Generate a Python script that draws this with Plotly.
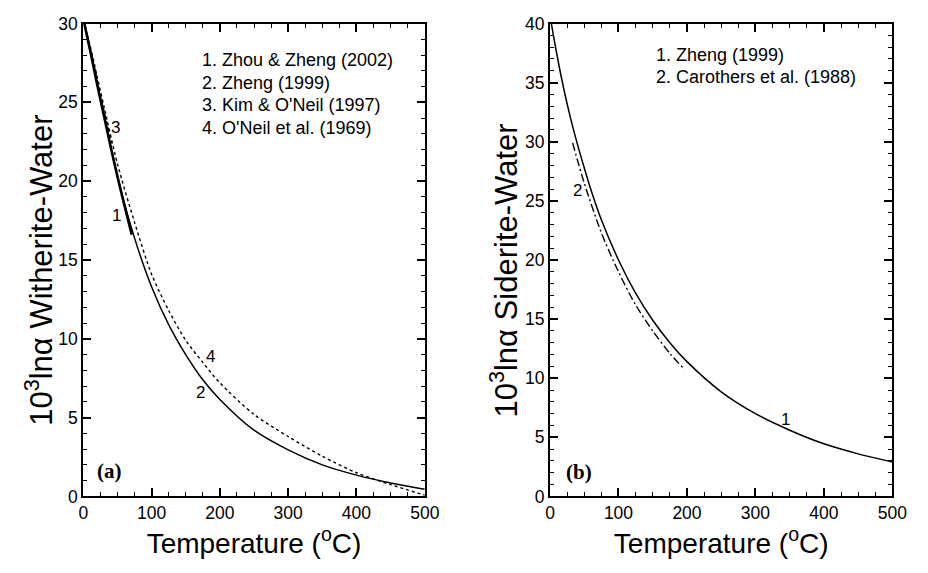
import plotly.graph_objects as go

# ---- Panel (a): Witherite-Water ----
t_zhou2002 = [0, 10, 20, 30, 40, 50, 60, 71]
v_zhou2002 = [30.3, 28.3, 26.2, 24.2, 22.2, 20.3, 18.5, 16.6]

t_zheng1999a = [2, 10, 20, 30, 50, 75, 100, 125, 150, 175, 200, 250, 300, 350, 400, 450, 500]
v_zheng1999a = [30.0, 28.4, 26.3, 24.3, 20.3, 16.4, 13.3, 10.9, 9.0, 7.4, 6.15, 4.2, 2.95, 2.0, 1.35, 0.85, 0.45]

t_kim1997 = [6, 15, 25, 35, 42]
v_kim1997 = [29.0, 27.5, 25.5, 23.6, 22.4]

t_oneil1969 = [1, 10, 20, 30, 50, 75, 100, 125, 150, 175, 200, 250, 300, 350, 400, 450, 500]
v_oneil1969 = [30.0, 28.6, 26.7, 24.8, 21.1, 17.4, 14.1, 11.8, 9.9, 8.5, 7.2, 5.2, 3.8, 2.55, 1.5, 0.75, 0.08]

# ---- Panel (b): Siderite-Water ----
t_zheng1999b = [2, 10, 20, 30, 40, 50, 60, 75, 100, 125, 150, 175, 200, 250, 300, 350, 400, 450, 500]
v_zheng1999b = [40.0, 37.4, 34.5, 32.0, 29.8, 27.8, 25.9, 23.4, 20.0, 17.2, 14.9, 13.0, 11.4, 8.85, 7.0, 5.6, 4.45, 3.6, 2.9]

t_carothers1988 = [33, 50, 75, 100, 125, 150, 175, 197]
v_carothers1988 = [29.9, 26.5, 22.3, 19.0, 16.2, 14.0, 12.1, 10.7]

legend_a = ["1. Zhou &amp; Zheng (2002)", "2. Zheng (1999)", "3. Kim &amp; O'Neil (1997)", "4. O'Neil et al. (1969)"]
legend_b = ["1. Zheng (1999)", "2. Carothers et al. (1988)"]

x_title = "Temperature (<sup>o</sup>C)"
y_title_a = "10<sup>3</sup>ln\u03b1 Witherite-Water"
y_title_b = "10<sup>3</sup>ln\u03b1 Siderite-Water"

FONT = "Liberation Sans, Arial, sans-serif"
SERIF = "Liberation Serif, Times New Roman, serif"

fig = go.Figure()

def add_line(x, y, xa, ya, dash="solid", width=1.5, name=""):
    fig.add_trace(go.Scatter(x=x, y=y, mode="lines", xaxis=xa, yaxis=ya, name=name,
                             line=dict(color="black", width=width, dash=dash, shape="spline", smoothing=0.8),
                             showlegend=False, hoverinfo="skip"))

add_line(t_oneil1969, v_oneil1969, "x", "y", dash="3px,3px", width=1.4, name="O'Neil 1969")
add_line(t_kim1997, v_kim1997, "x", "y", dash="4px,3px", width=1.4, name="Kim 1997")
add_line(t_zheng1999a, v_zheng1999a, "x", "y", width=1.5, name="Zheng 1999")
add_line(t_zhou2002, v_zhou2002, "x", "y", width=2.6, name="Zhou 2002")

add_line(t_zheng1999b, v_zheng1999b, "x2", "y2", width=1.5, name="Zheng 1999")
add_line(t_carothers1988, v_carothers1988, "x2", "y2", dash="8px,3px,2px,3px", width=1.4, name="Carothers 1988")

axis_common = dict(showline=True, linecolor="black", linewidth=2, mirror="allticks",
                   ticks="inside", ticklen=8, tickwidth=1.6, tickcolor="black",
                   showgrid=False, zeroline=False, layer="above traces",
                   tickfont=dict(family=FONT, size=17.5, color="black"))
minor_x = dict(dtick=25, ticklen=4, tickwidth=1.3, tickcolor="black", ticks="inside")
minor_y = dict(dtick=1, ticklen=4, tickwidth=1.3, tickcolor="black", ticks="inside")
title_font = dict(family=FONT, size=28, color="black")

xd1 = [80/928, 429/928]
xd2 = [557/928, 907/928]
yd = [1 - 504/573, 1 - 14/573]

fig.update_layout(
    width=928, height=573,
    margin=dict(l=0, r=0, t=0, b=0),
    paper_bgcolor="white", plot_bgcolor="white",
    xaxis=dict(domain=xd1, range=[0, 500], dtick=100, anchor="y", minor=minor_x,
               title=dict(text=x_title, font=title_font, standoff=10), **axis_common),
    yaxis=dict(domain=yd, range=[0, 30], dtick=5, anchor="x", minor=minor_y, **axis_common),
    xaxis2=dict(domain=xd2, range=[0, 500], dtick=100, anchor="y2", minor=minor_x,
                title=dict(text=x_title, font=title_font, standoff=10), **axis_common),
    yaxis2=dict(domain=yd, range=[0, 40], dtick=5, anchor="x2", minor=minor_y, **axis_common),
)

ann = []
# y-axis titles
for xp, s in [(34, y_title_a), (510, y_title_b)]:
    ann.append(dict(xref="paper", yref="paper", x=xp/928, y=1 - 270/573, text=s, textangle=-90,
                    showarrow=False, xanchor="center", yanchor="middle",
                    font=dict(family=FONT, size=31, color="black")))

legend_a_y = [27.7, 26.25, 24.8, 23.35]
for s, yv in zip(legend_a, legend_a_y):
    ann.append(dict(xref="x", yref="y", x=171, y=yv, text=s,
                    showarrow=False, xanchor="left", yanchor="middle",
                    font=dict(family=FONT, size=18, color="black")))
legend_b_y = [37.3, 35.45]
for s, yv in zip(legend_b, legend_b_y):
    ann.append(dict(xref="x2", yref="y2", x=152, y=yv, text=s,
                    showarrow=False, xanchor="left", yanchor="middle",
                    font=dict(family=FONT, size=18, color="black")))

curve_labels = [("x", "y", 49, 17.8, "1"), ("x", "y", 47, 23.4, "3"), ("x", "y", 172, 6.6, "2"),
                ("x", "y", 187, 8.9, "4"), ("x2", "y2", 40, 25.9, "2"), ("x2", "y2", 344, 6.5, "1")]
for xr, yr, xv, yv, s in curve_labels:
    ann.append(dict(xref=xr, yref=yr, x=xv, y=yv, text=s, showarrow=False,
                    font=dict(family=FONT, size=17, color="black")))

ann.append(dict(xref="x", yref="y", x=39, y=1.6, text="<b>(a)</b>", showarrow=False,
                font=dict(family=SERIF, size=21, color="black")))
ann.append(dict(xref="x2", yref="y2", x=42, y=2.1, text="<b>(b)</b>", showarrow=False,
                font=dict(family=SERIF, size=21, color="black")))

fig.update_layout(annotations=ann)

fig.write_html("out.html", config={"displayModeBar": False},
               post_script="document.body.style.margin='0';")
